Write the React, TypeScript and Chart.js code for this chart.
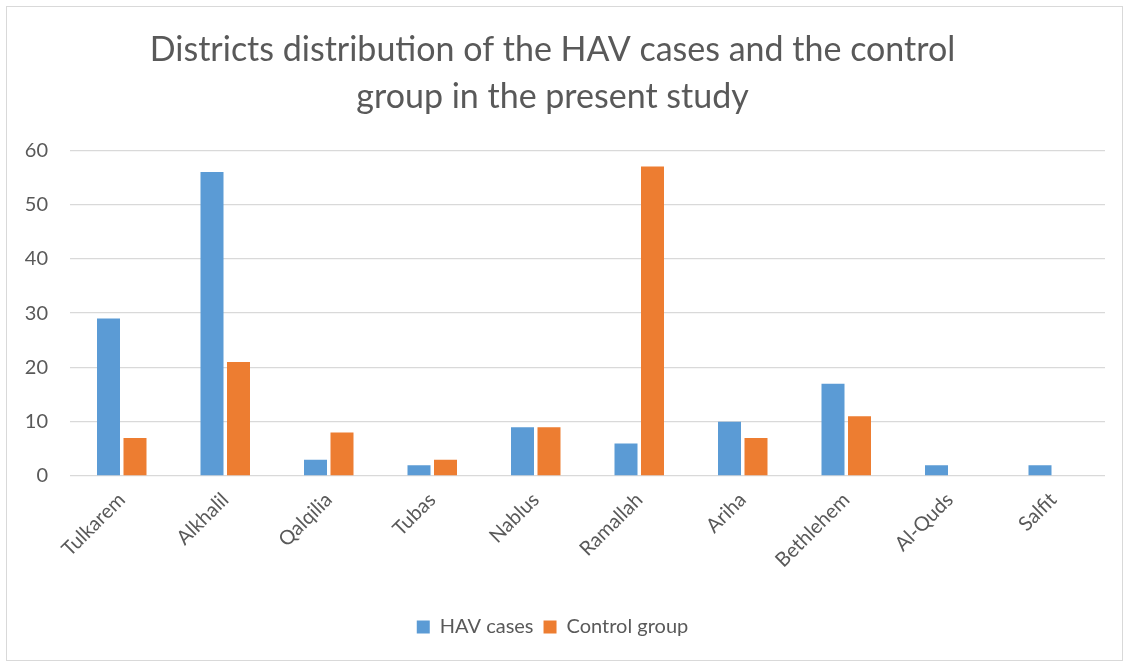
import React, { useEffect, useRef } from "react";
import { Chart, registerables } from "chart.js";

Chart.register(...registerables);

const categories = ["Tulkarem", "Alkhalil", "Qalqilia", "Tubas", "Nablus", "Ramallah", "Ariha", "Bethlehem", "Al-Quds", "Salfit"];
const havCases = [29, 56, 3, 2, 9, 6, 10, 17, 2, 2];
const controlGroup = [7, 21, 8, 3, 9, 57, 7, 11, 0, 0];
const titleLines = ["Districts distribution of the HAV cases and the control", "group in the present study"];

const FONT = "Lato, 'Open Sans', sans-serif";
const TEXT = "#595959";

export default function App() {
  const ref = useRef<HTMLCanvasElement>(null);
  useEffect(() => {
    if (!ref.current) return;
    const chart = new Chart(ref.current, {
      type: "bar",
      data: {
        labels: categories,
        datasets: [
          { label: "HAV cases", data: havCases, backgroundColor: "#5B9BD5", categoryPercentage: 0.512, barPercentage: 0.868 },
          { label: "Control group", data: controlGroup, backgroundColor: "#ED7D31", categoryPercentage: 0.512, barPercentage: 0.868 },
        ],
      },
      options: {
        animation: false,
        responsive: false,
        layout: { padding: { left: 0, right: 24, top: 0, bottom: 17 } },
        plugins: {
          title: {
            display: true,
            text: titleLines,
            color: TEXT,
            font: { family: FONT, size: 34, weight: "normal", lineHeight: 1.4 },
            padding: { top: 26, bottom: 29 },
          },
          legend: {
            position: "bottom",
            labels: {
              color: TEXT,
              font: { family: FONT, size: 20 },
              boxWidth: 13,
              boxHeight: 13,
              padding: 10,
            },
          },
          tooltip: { enabled: false },
        },
        scales: {
          x: {
            grid: { display: false },
            border: { display: false },
            ticks: { color: TEXT, font: { family: FONT, size: 20 }, maxRotation: 45, minRotation: 45, padding: 4 },
            afterFit: (s: any) => { s.height = 131; },
          },
          y: {
            min: 0,
            max: 60,
            ticks: { stepSize: 10, color: TEXT, font: { family: FONT, size: 20 }, padding: 22 },
            grid: { color: "#D9D9D9", lineWidth: 1.3, drawTicks: false },
            border: { display: false },
            afterFit: (s: any) => { s.width = 70; },
          },
        },
      },
    });
    return () => chart.destroy();
  }, []);
  return (
    <div style={{ position: "absolute", left: 0, top: 0, width: 1129, height: 664, background: "#fff" }}>
      <div style={{ position: "absolute", left: 6, top: 6, width: 1115, height: 653, border: "1px solid #D9D9D9" }} />
      <canvas ref={ref} width={1129} height={664} style={{ position: "absolute", left: 0, top: 0 }} />
    </div>
  );
}
